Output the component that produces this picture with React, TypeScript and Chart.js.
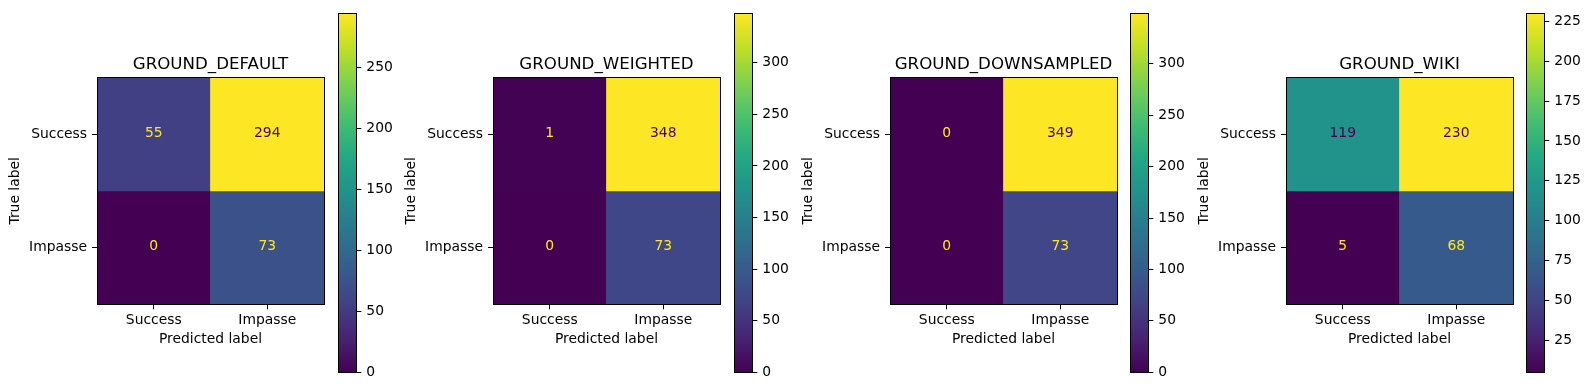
import React, { useEffect, useRef } from "react";
import { Chart, registerables } from "chart.js";

Chart.register(...registerables);

// ---------------- data ----------------
const categories = ["Success", "Impasse"];
const panelTitles = ["GROUND_DEFAULT", "GROUND_WEIGHTED", "GROUND_DOWNSAMPLED", "GROUND_WIKI"];
const defaultMatrix = [
  [55, 294],
  [0, 73],
];
const weightedMatrix = [
  [1, 348],
  [0, 73],
];
const downsampledMatrix = [
  [0, 349],
  [0, 73],
];
const wikiMatrix = [
  [119, 230],
  [5, 68],
];
const defaultTicks = [0, 50, 100, 150, 200, 250];
const weightedTicks = [0, 50, 100, 150, 200, 250, 300];
const downsampledTicks = [0, 50, 100, 150, 200, 250, 300];
const wikiTicks = [25, 50, 75, 100, 125, 150, 175, 200, 225];

// ---------------- styling ----------------
const FONT_FAMILY = '"DejaVu Sans", sans-serif';
const TICK_SIZE = 13.89;
const TITLE_SIZE = 16.67;

Chart.defaults.font.family = FONT_FAMILY;

const VIRIDIS = [
  "#440154", "#482475", "#414487", "#355f8d", "#2a788e", "#21918c",
  "#22a884", "#44bf70", "#7ad151", "#bddf26", "#fde725",
];

function hexToRgb(h: string) {
  return [parseInt(h.slice(1, 3), 16), parseInt(h.slice(3, 5), 16), parseInt(h.slice(5, 7), 16)];
}

function viridis(t: number) {
  const c = Math.max(0, Math.min(1, t)) * (VIRIDIS.length - 1);
  const i = Math.min(VIRIDIS.length - 2, Math.floor(c));
  const f = c - i;
  const a = hexToRgb(VIRIDIS[i]);
  const b = hexToRgb(VIRIDIS[i + 1]);
  const m = a.map((v, k) => Math.round(v + (b[k] - v) * f));
  return `rgb(${m[0]},${m[1]},${m[2]})`;
}

const framePlugin = {
  id: "frame",
  afterDraw(chart: any) {
    const { ctx, chartArea: a } = chart;
    ctx.save();
    ctx.strokeStyle = "#000";
    ctx.lineWidth = 1;
    const l = Math.floor(a.left) + 0.5;
    const t = Math.floor(a.top) + 0.5;
    const r = Math.floor(a.right) + 0.5;
    const b = Math.floor(a.bottom) + 0.5;
    ctx.strokeRect(l, t, r - l, b - t);
    ctx.restore();
  },
};

const panels = [
  { title: panelTitles[0], matrix: defaultMatrix, ticks: defaultTicks, hmLeft: 97, cbLeft: 338 },
  { title: panelTitles[1], matrix: weightedMatrix, ticks: weightedTicks, hmLeft: 493, cbLeft: 734 },
  { title: panelTitles[2], matrix: downsampledMatrix, ticks: downsampledTicks, hmLeft: 890, cbLeft: 1130 },
  { title: panelTitles[3], matrix: wikiMatrix, ticks: wikiTicks, hmLeft: 1286, cbLeft: 1526 },
];

const AXIS_W = 97;
const HM_SIZE = 227;
const HM_TOP = 77.3;
const HM_BOTTOM = 304.3;
const CANVAS_H = 390;

function Heatmap({ matrix, title, left }: { matrix: number[][]; title: string; left: number }) {
  const ref = useRef<HTMLCanvasElement | null>(null);
  const width = AXIS_W + HM_SIZE + 6;
  useEffect(() => {
    const flat = matrix.flat();
    const vmin = Math.min(...flat);
    const vmax = Math.max(...flat);
    const norm = (v: number) => (v - vmin) / (vmax - vmin);
    const thresh = (vmin + vmax) / 2;
    const datasets = matrix.map((row, r) => ({
      label: categories[r],
      data: row.map(() => [r, r + 1]),
      backgroundColor: row.map((v) => viridis(norm(v))),
      borderWidth: 0,
      barPercentage: 1,
      categoryPercentage: 1,
    }));

    const valuesPlugin = {
      id: "values",
      afterDatasetsDraw(chart: any) {
        const { ctx, scales } = chart;
        ctx.save();
        ctx.font = `${TICK_SIZE}px ${FONT_FAMILY}`;
        ctx.textAlign = "center";
        ctx.textBaseline = "middle";
        matrix.forEach((row, r) => {
          row.forEach((v, c) => {
            const x = scales.x.getPixelForValue(c);
            const y = scales.y.getPixelForValue(r + 0.5);
            ctx.fillStyle = v < thresh ? viridis(1) : viridis(0);
            ctx.fillText(String(v), x, y - 1);
          });
        });
        ctx.restore();
      },
    };

    const titlePlugin = {
      id: "panelTitle",
      afterDraw(chart: any) {
        const { ctx, chartArea: a } = chart;
        ctx.save();
        ctx.font = `${TITLE_SIZE}px ${FONT_FAMILY}`;
        ctx.fillStyle = "#000";
        ctx.textAlign = "center";
        ctx.textBaseline = "alphabetic";
        ctx.fillText(title, (a.left + a.right) / 2, 68.5);
        ctx.restore();
      },
    };

    const tickFont = { size: TICK_SIZE, family: FONT_FAMILY };
    const chart = new Chart(ref.current as HTMLCanvasElement, {
      type: "bar",
      data: { labels: categories, datasets: datasets as any },
      options: {
        animation: false,
        responsive: false,
        maintainAspectRatio: false,
        layout: { padding: { top: HM_TOP, right: width - AXIS_W - HM_SIZE, left: 0, bottom: 0 } },
        plugins: {
          legend: { display: false },
          tooltip: { enabled: false },
          title: { display: false },
        },
        scales: {
          x: {
            stacked: true,
            offset: true,
            grid: {
              offset: false,
              drawOnChartArea: false,
              drawTicks: true,
              tickLength: 5,
              tickColor: "#000",
              color: "#000",
            },
            border: { display: false },
            ticks: { color: "#000", font: tickFont, padding: 3, maxRotation: 0, autoSkip: false },
            title: {
              display: true,
              text: "Predicted label",
              color: "#000",
              font: tickFont,
              padding: { top: 0, bottom: 42.5 },
            },
            afterFit: (s: any) => {
              s.height = CANVAS_H - HM_BOTTOM;
            },
          } as any,
          y: {
            type: "linear",
            min: 0,
            max: 2,
            reverse: true,
            afterBuildTicks: (s: any) => {
              s.ticks = categories.map((_, i) => ({ value: i + 0.5 }));
            },
            grid: {
              drawOnChartArea: false,
              drawTicks: true,
              tickLength: 5,
              tickColor: "#000",
              color: "#000",
            },
            border: { display: false },
            ticks: {
              color: "#000",
              font: tickFont,
              padding: 5,
              callback: (v: any) => categories[Math.floor(Number(v))],
            },
            title: {
              display: true,
              text: "True label",
              color: "#000",
              font: tickFont,
              padding: { top: 7, bottom: 0 },
            },
            afterFit: (s: any) => {
              s.width = AXIS_W;
            },
          } as any,
        },
      },
      plugins: [framePlugin, valuesPlugin, titlePlugin],
    });
    return () => chart.destroy();
  }, []);
  return (
    <canvas
      ref={ref}
      width={width}
      height={CANVAS_H}
      style={{ position: "absolute", left: left - AXIS_W, top: 0, width, height: CANVAS_H }}
    />
  );
}

const CB_W = 18;
const CB_CANVAS_W = 58;
const CB_TOP = 10.3;
const CB_BOTTOM = 372.3;

function Colorbar({ matrix, ticks, left }: { matrix: number[][]; ticks: number[]; left: number }) {
  const ref = useRef<HTMLCanvasElement | null>(null);
  useEffect(() => {
    const flat = matrix.flat();
    const vmin = Math.min(...flat);
    const vmax = Math.max(...flat);
    const gradient = (ctx: any) => {
      const chart = ctx.chart;
      const a = chart.chartArea;
      if (!a) return viridis(0.5);
      const g = chart.ctx.createLinearGradient(0, a.bottom, 0, a.top);
      const n = 64;
      for (let i = 0; i <= n; i++) g.addColorStop(i / n, viridis(i / n));
      return g;
    };
    const chart = new Chart(ref.current as HTMLCanvasElement, {
      type: "bar",
      data: {
        labels: [""],
        datasets: [
          {
            data: [[vmin, vmax]] as any,
            backgroundColor: gradient as any,
            borderWidth: 0,
            barPercentage: 1,
            categoryPercentage: 1,
          },
        ],
      },
      options: {
        animation: false,
        responsive: false,
        maintainAspectRatio: false,
        layout: { padding: { top: CB_TOP, bottom: CANVAS_H - CB_BOTTOM, left: 0.3, right: 0 } },
        plugins: { legend: { display: false }, tooltip: { enabled: false } },
        scales: {
          x: { display: false, offset: true },
          y: {
            type: "linear",
            position: "right",
            min: vmin,
            max: vmax,
            afterBuildTicks: (s: any) => {
              s.ticks = ticks.map((v) => ({ value: v }));
            },
            grid: {
              drawOnChartArea: false,
              drawTicks: true,
              tickLength: 5,
              tickColor: "#000",
              color: "#000",
            },
            border: { display: false },
            ticks: { color: "#000", font: { size: TICK_SIZE, family: FONT_FAMILY }, padding: 5 },
            afterFit: (s: any) => {
              s.width = CB_CANVAS_W - CB_W - 0.3;
            },
          } as any,
        },
      },
      plugins: [framePlugin],
    });
    return () => chart.destroy();
  }, []);
  return (
    <canvas
      ref={ref}
      width={CB_CANVAS_W}
      height={CANVAS_H}
      style={{ position: "absolute", left, top: 0, width: CB_CANVAS_W, height: CANVAS_H }}
    />
  );
}

export default function App() {
  return (
    <div
      style={{
        position: "fixed",
        left: 0,
        top: 0,
        width: 1590,
        height: 390,
        background: "#fff",
        overflow: "hidden",
      }}
    >
      {panels.map((p) => (
        <React.Fragment key={p.title}>
          <Heatmap matrix={p.matrix} title={p.title} left={p.hmLeft} />
          <Colorbar matrix={p.matrix} ticks={p.ticks} left={p.cbLeft} />
        </React.Fragment>
      ))}
    </div>
  );
}
